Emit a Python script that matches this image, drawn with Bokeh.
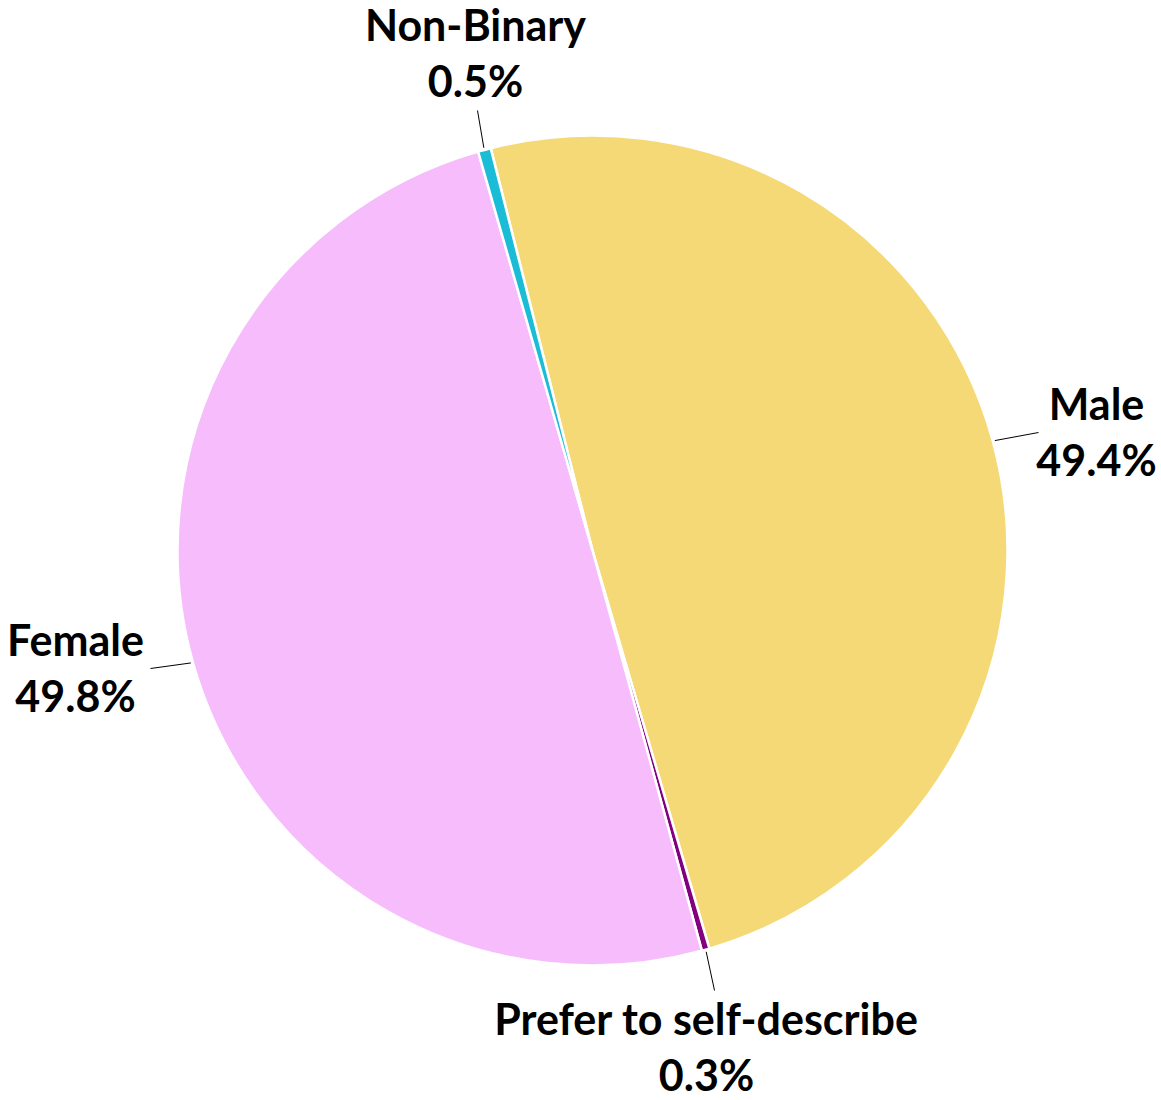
import math
from bokeh.plotting import figure
from bokeh.models import ColumnDataSource
from bokeh.core.properties import value
from bokeh.embed import file_html
from bokeh.resources import INLINE

# ---- data ----
categories = ["Male", "Prefer to self-describe", "Female", "Non-Binary"]
shares = [49.4, 0.3, 49.8, 0.5]
pct_labels = ["49.4%", "0.3%", "49.8%", "0.5%"]
colors = ["#F5D976", "#800080", "#F7BCFC", "#1ABCD6"]

# ---- layout ----
W, H = 1161, 1100
CX, CY = 592, 550          # pie centre in figure pixels (from top-left)
R = 415
first_angle = 345.8        # clockwise from 12 o'clock, degrees
# label anchors (dx, dy) relative to centre, in pixels, y up
label_pos = [(504, 119), (114, -496), (-517, -117), (-117, 498)]
leader_end = [(446, 118), (122, -440), (-442, -118), (-115, 440)]
line_gap = 56
FONT_SIZE = "43px"

p = figure(width=W, height=H, output_backend="svg", toolbar_location=None,
           x_range=(-CX, W - CX), y_range=(-(H - CY), CY),
           min_border=0, outline_line_color=None)
p.axis.visible = False
p.grid.visible = False
p.background_fill_color = "white"
p.border_fill_color = "white"

total = sum(shares)
starts, ends, mids = [], [], []
a = first_angle
for s in shares:
    span = s / total * 360.0
    starts.append(a)
    ends.append(a + span)
    mids.append(a + span / 2)
    a += span

def to_math(theta_deg):
    return math.radians(90.0 - theta_deg)

src = ColumnDataSource(dict(
    start=[to_math(t) for t in starts],
    end=[to_math(t) for t in ends],
    color=colors,
    name=categories,
))
p.wedge(x=0, y=0, radius=R, start_angle="start", end_angle="end",
        direction="clock", fill_color="color", line_color="white",
        line_width=2.5, source=src)

# leader lines
for m, (ex, ey) in zip(mids, leader_end):
    th = math.radians(m)
    sx, sy = R * math.sin(th), R * math.cos(th)
    p.line([sx * 1.005, ex], [sy * 1.005, ey], line_color="black", line_width=1)

# labels
name_x = [lp[0] for lp in label_pos]
name_y = [lp[1] + line_gap / 2 for lp in label_pos]
pct_y = [lp[1] - line_gap / 2 for lp in label_pos]
p.text(x=name_x, y=name_y, text=categories, text_align="center",
       text_baseline="middle", text_font=value("Lato"), text_font_style="bold",
       text_font_size=FONT_SIZE, text_color="black")
p.text(x=name_x, y=pct_y, text=pct_labels, text_align="center",
       text_baseline="middle", text_font=value("Lato"), text_font_style="bold",
       text_font_size=FONT_SIZE, text_color="black")

open("out.html", "w").write(file_html(p, INLINE))
